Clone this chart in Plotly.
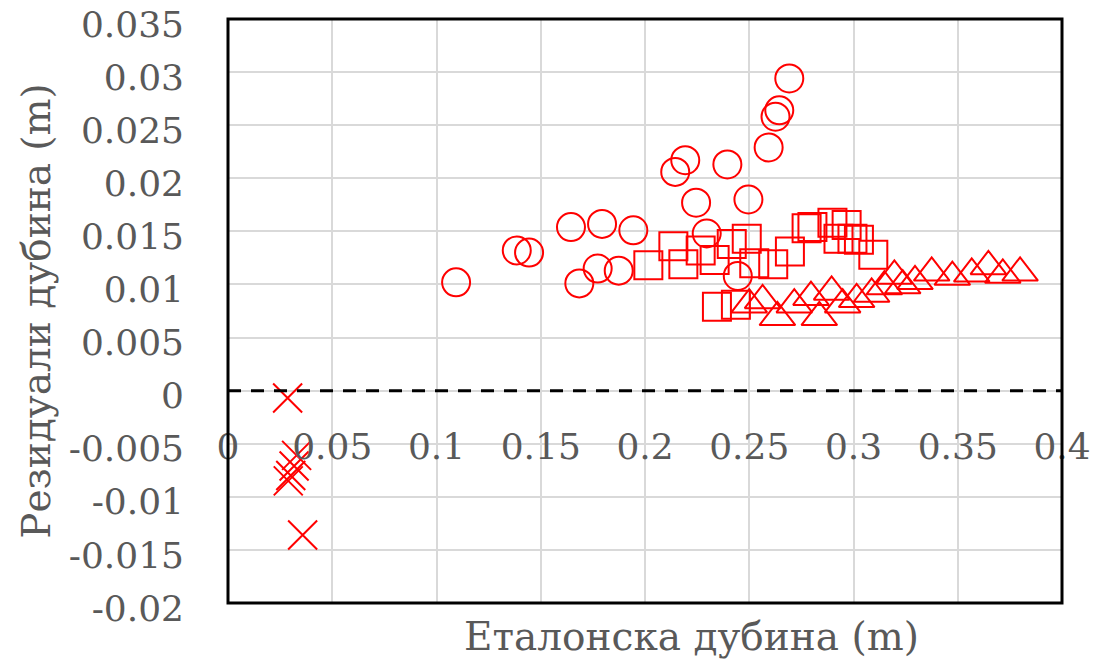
import plotly.graph_objects as go

# 원형 마커 (circle)
circle_x = [0.2692, 0.2644, 0.2626, 0.2593, 0.2193, 0.2145, 0.2395, 0.2245, 0.2496, 0.1645,
            0.1794, 0.1944, 0.2296, 0.1385, 0.1444, 0.1094, 0.1773, 0.1874, 0.1685, 0.2445]
circle_y = [0.0294, 0.0264, 0.0258, 0.0229, 0.0217, 0.0206, 0.0213, 0.0177, 0.0180, 0.0154,
            0.0157, 0.0151, 0.0148, 0.0132, 0.0130, 0.0102, 0.0115, 0.0113, 0.0101, 0.0108]

# 사각형 마커 (square)
square_x = [0.2016, 0.2136, 0.2184, 0.2267, 0.2334, 0.2416, 0.2488, 0.2524, 0.2615, 0.2695,
            0.2775, 0.2803, 0.2899, 0.2967, 0.2928, 0.2995, 0.3026, 0.3095, 0.2345, 0.2436]
square_y = [0.0118, 0.0136, 0.0119, 0.0132, 0.0123, 0.0138, 0.0143, 0.0120, 0.0119, 0.0131,
            0.0153, 0.0154, 0.0158, 0.0156, 0.0143, 0.0143, 0.0142, 0.0128, 0.0079, 0.0081]

# 삼각형 마커 (triangle)
triangle_x = [0.2500, 0.2564, 0.2635, 0.2716, 0.2796, 0.2836, 0.2895, 0.2948, 0.3015, 0.3087,
              0.3148, 0.3196, 0.3236, 0.3295, 0.3375, 0.3474, 0.3567, 0.3647, 0.3716, 0.3799]
triangle_y = [0.0081, 0.0085, 0.0069, 0.0081, 0.0088, 0.0069, 0.0093, 0.0081, 0.0086, 0.0091,
              0.0098, 0.0108, 0.0099, 0.0103, 0.0111, 0.0107, 0.0110, 0.0117, 0.0109, 0.0111]

# X 마커 (cross)
cross_x = [0.0286, 0.0329, 0.0317, 0.0301, 0.0289, 0.0358]
cross_y = [-0.0007, -0.0061, -0.0071, -0.0080, -0.0085, -0.0136]

x_ticks = [0, 0.05, 0.1, 0.15, 0.2, 0.25, 0.3, 0.35, 0.4]
x_labels = ['0', '0.05', '0.1', '0.15', '0.2', '0.25', '0.3', '0.35', '0.4']
y_ticks = [-0.02, -0.015, -0.01, -0.005, 0, 0.005, 0.01, 0.015, 0.02, 0.025, 0.03, 0.035]
y_labels = ['-0.02', '-0.015', '-0.01', '-0.005', '0', '0.005', '0.01', '0.015',
            '0.02', '0.025', '0.03', '0.035']

RED = '#ff0000'
GRAY = '#595959'
FONT = 'DejaVu Serif'

fig = go.Figure()
fig.add_trace(go.Scatter(x=circle_x, y=circle_y, mode='markers',
                         marker=dict(symbol='circle-open', size=28, color=RED, line=dict(width=2, color=RED))))
fig.add_trace(go.Scatter(x=square_x, y=square_y, mode='markers',
                         marker=dict(symbol='square-open', size=28, color=RED, line=dict(width=2, color=RED))))
fig.add_trace(go.Scatter(x=triangle_x, y=triangle_y, mode='markers',
                         marker=dict(symbol='triangle-up-open', size=31, color=RED, line=dict(width=2, color=RED))))
fig.add_trace(go.Scatter(x=cross_x, y=cross_y, mode='markers',
                         marker=dict(symbol='x-thin-open', size=29, color=RED, line=dict(width=2, color=RED))))

# 0 기준 점선
fig.add_shape(type='line', xref='x domain', yref='y', x0=0, x1=1, y0=0, y1=0,
              line=dict(color='black', width=3, dash='13px,10px'), layer='above')
# 플롯 테두리
fig.add_shape(type='rect', xref='x domain', yref='y domain', x0=0, x1=1, y0=0, y1=1,
              line=dict(color='black', width=3), layer='above')

# 페이지 기본 여백(8px) 고려
fig.update_layout(
    width=1099, height=659,
    margin=dict(l=220, r=45, t=11, b=64, autoexpand=False),
    plot_bgcolor='white', paper_bgcolor='white',
    showlegend=False,
    font=dict(family=FONT, size=36, color=GRAY),
    # x축 라벨은 y=0 위치에 붙음
    xaxis=dict(range=[0, 0.4], tickvals=x_ticks, ticktext=x_labels,
               anchor='free', position=0.02 / 0.055, automargin=False,
               showgrid=True, gridcolor='#d9d9d9', gridwidth=1.5, zeroline=False,
               showline=False, ticks='', ticklabelstandoff=31,
               tickfont=dict(family=FONT, size=36, color=GRAY)),
    yaxis=dict(range=[-0.02, 0.035], tickvals=y_ticks, ticktext=y_labels, automargin=False,
               showgrid=True, gridcolor='#d9d9d9', gridwidth=1.5, zeroline=False,
               showline=False, ticks='', ticklabelstandoff=43, ticklabelshift=5,
               ticklabeloverflow='allow',
               tickfont=dict(family=FONT, size=36, color=GRAY),
               title=dict(text='Резидуали дубина (m)', standoff=6,
                          font=dict(family=FONT, size=39, color=GRAY))),
)

fig.add_annotation(text='Еталонска дубина (m)', xref='paper', yref='paper',
                   x=(691 - 228) / 834, y=(603 - 637) / 584, showarrow=False,
                   xanchor='center', yanchor='middle',
                   font=dict(family=FONT, size=39, color=GRAY))

fig.write_html('out.html')
